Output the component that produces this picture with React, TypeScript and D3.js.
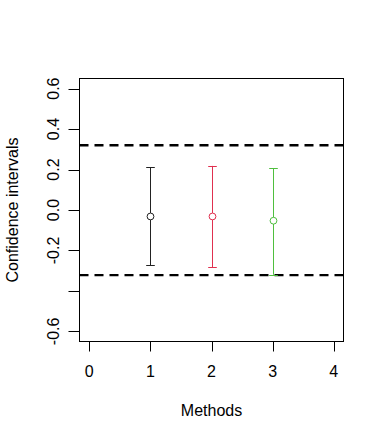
import React from "react";
import * as d3 from "d3";

const methods = [1, 2, 3];
const estimates = [-0.032, -0.032, -0.053];
const lowers = [-0.274, -0.282, -0.32];
const uppers = [0.211, 0.218, 0.206];
const colors = ["#222222", "#E0304F", "#4FBF3E"];
const xTicks = [0, 1, 2, 3, 4];
const yTicks = [-0.6, -0.4, -0.2, 0, 0.2, 0.4, 0.6];
const yTickLabels = ["-0.6", "", "-0.2", "0.0", "0.2", "0.4", "0.6"];
const refLines = [0.32, -0.322];

const W = 384, H = 440;
const left = 79.5, right = 343.5, top = 78.5, bottom = 341.5;

export default function App() {
  const x = d3.scaleLinear().domain([-0.16, 4.16]).range([left, right]);
  const y = d3.scaleLinear().domain([-0.65, 0.65]).range([bottom, top]);
  const font = "'Liberation Sans', Arial, Helvetica, sans-serif";
  const cap = 4.3;
  const px = (v: number) => Math.round(v) + 0.5;
  return (
    <svg width={W} height={H} style={{ position: "absolute", left: 0, top: 0, background: "#fff" }} fontFamily={font}>
      <rect x={0} y={0} width={W} height={H} fill="#fff" />
      {refLines.map((v, i) => (
        <line key={"r" + i} x1={left} x2={right} y1={y(v)} y2={y(v)} stroke="#000" strokeWidth={2.4} strokeDasharray="9,6" />
      ))}
      {methods.map((m, i) => (
        <g key={"m" + i} stroke={colors[i]} fill="none" strokeWidth={1}>
          <line x1={px(x(m))} x2={px(x(m))} y1={y(lowers[i])} y2={y(uppers[i])} />
          <line x1={px(x(m)) - cap} x2={px(x(m)) + cap} y1={px(y(lowers[i]))} y2={px(y(lowers[i]))} />
          <line x1={px(x(m)) - cap} x2={px(x(m)) + cap} y1={px(y(uppers[i]))} y2={px(y(uppers[i]))} />
          <circle cx={px(x(m))} cy={y(estimates[i])} r={3.4} fill="#fff" />
        </g>
      ))}
      <rect x={left} y={top} width={right - left} height={bottom - top} fill="none" stroke="#000" strokeWidth={1} />
      {/* x axis */}
      <line x1={x(xTicks[0])} x2={x(xTicks[xTicks.length - 1])} y1={bottom} y2={bottom} stroke="#000" />
      {xTicks.map((t) => (
        <g key={"xt" + t}>
          <line x1={px(x(t))} x2={px(x(t))} y1={bottom} y2={bottom + 10} stroke="#000" />
          <text x={x(t)} y={371.7} fontSize={16} textAnchor="middle" dominantBaseline="central">{String(t)}</text>
        </g>
      ))}
      {/* y axis */}
      {yTicks.map((t, i) => (
        <g key={"yt" + i}>
          <line x1={left - 11} x2={left} y1={px(y(t))} y2={px(y(t))} stroke="#000" />
          {yTickLabels[i] !== "" && (
            <text transform={`translate(53.5,${y(t)}) rotate(-90)`} fontSize={16} textAnchor="middle" dominantBaseline="central">{yTickLabels[i]}</text>
          )}
        </g>
      ))}
      <text x={(left + right) / 2} y={410} fontSize={16} textAnchor="middle" dominantBaseline="central">Methods</text>
      <text transform={`translate(12.5,${(top + bottom) / 2}) rotate(-90)`} fontSize={16} textAnchor="middle" dominantBaseline="central">Confidence intervals</text>
    </svg>
  );
}
